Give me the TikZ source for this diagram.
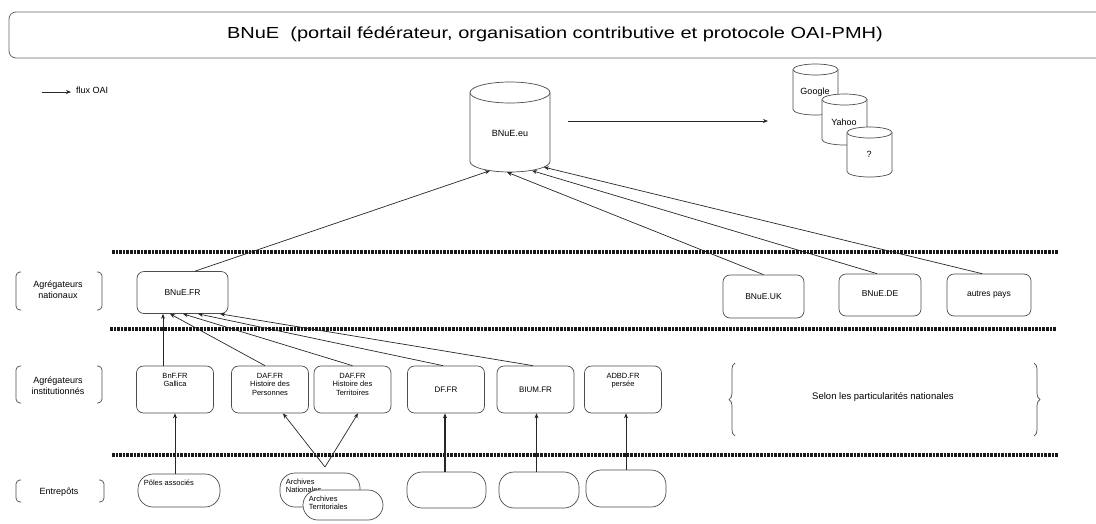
\documentclass[tikz,border=0pt]{standalone}
\usepackage{fontspec}
\setmainfont{Liberation Sans}
\usetikzlibrary{arrows.meta,calc,decorations.pathreplacing}
\newcommand{\cylshape}[5]{% left, top, width, height, ry
  \filldraw[cylline] (#1,#2+#5) -- (#1,#2+#4-#5)
    arc[start angle=180,end angle=0,x radius=#3/2,y radius=#5]
    -- (#1+#3,#2+#5)
    arc[start angle=0,end angle=-180,x radius=#3/2,y radius=#5] -- cycle;
  \draw[cylline] (#1,#2+#5) arc[start angle=180,end angle=0,x radius=#3/2,y radius=#5];}
\begin{document}
\begin{tikzpicture}[x=1pt,y=-1pt,
  ln/.style={draw=black!85,line width=0.7pt},
  arr/.style={ln,-{Stealth[length=5pt,width=4pt]}},
  dotline/.style={line width=3.5pt,dash pattern=on 2.6pt off 1pt,black!90},
  cylline/.style={draw=black!70,fill=white,line width=0.7pt},
  cyltext/.style={inner sep=0pt,font=\fontsize{9}{10}\selectfont},
  natbox/.style={draw=black!70,line width=0.7pt,rounded corners=7pt,minimum height=42pt,font=\fontsize{8.5}{10}\selectfont},
  instbox/.style={draw=black!70,line width=0.7pt,rounded corners=7pt,minimum height=47pt,minimum width=77pt,font=\fontsize{8}{9}\selectfont,align=center},
  toplab/.style={anchor=north,yshift=-6pt,font=\fontsize{7.5}{8.5}\selectfont,align=center,inner sep=1pt},
  stad/.style={draw=black!70,fill=white,line width=0.7pt,rounded corners=15pt,minimum width=80pt,minimum height=34pt},
  stadlab/.style={anchor=north west,xshift=6pt,yshift=-6pt,font=\fontsize{7.5}{8.5}\selectfont,align=left,inner sep=0pt},
  side/.style={font=\fontsize{9}{11}\selectfont,align=center,inner sep=0pt},
  brk/.style={draw=black!70,line width=0.7pt,rounded corners=4pt}]
\useasboundingbox (0,0) rectangle (1096,523);

% title
\draw[draw=black!60,line width=0.8pt,rounded corners=7pt] (9,12) rectangle (1110,58);
\node[font=\fontsize{16}{18}\selectfont,inner sep=0pt,xscale=1.25] (title) at (555,34) {BNuE\ \ (portail fédérateur, organisation contributive et protocole OAI-PMH)};

% legend
\coordinate (lg) at (42,92);
\node[font=\fontsize{9}{10}\selectfont,anchor=west,inner sep=0pt] (lgt) at (76,90) {flux OAI};
\draw[arr] (lg) -- ($(lgt.west)+(-5,2)$);

% cylinders
\cylshape{470}{82}{80}{90}{10.5}
\node[cyltext,minimum width=80pt,minimum height=90pt] (eu) at (510,127) {};
\node[cyltext] (eut) at (510,133) {BNuE.eu};
\cylshape{793}{64}{45}{51}{5.5}
\cylshape{822}{94}{45}{51}{5.5}
\cylshape{847}{127}{45}{50}{5.5}
\node[cyltext] (google) at (815,92) {Google};
\node[cyltext] (yahoo) at (844,122) {Yahoo};
\node[cyltext] (other) at (869,154) {?};

\coordinate (euout) at (568,121);
\coordinate (seng) at (768,121);
\draw[arr,line width=0.9pt] (euout) -- (seng);

% dotted separators
\draw[dotline] (112,252) -- (1058,252);
\draw[dotline] (110,329) -- (1056,329);
\draw[dotline] (112,455) -- (1058,455);

% side labels
\node[side] (l1) at (58,290) {Agrégateurs\\nationaux};
\draw[brk] (21,272) -- (16,272) -- (16,310) -- (21,310);
\draw[brk] (97,272) -- (102,272) -- (102,310) -- (97,310);
\node[side] (l2) at (58,386) {Agrégateurs\\institutionnés};
\draw[brk] (21,366) -- (16,366) -- (16,403) -- (21,403);
\draw[brk] (97,366) -- (102,366) -- (102,403) -- (97,403);
\node[side] (l3) at (59,492) {Entrepôts};
\draw[brk] (21,480) -- (16,480) -- (16,502) -- (21,502);
\draw[brk] (99,480) -- (104,480) -- (104,502) -- (99,502);

% national aggregators
\node[natbox,minimum width=91pt] (fr) at (182.5,292.5) {BNuE.FR};
\node[natbox,minimum width=81pt,minimum height=43pt] (uk) at (763.5,296.5) {BNuE.UK};
\node[natbox,minimum width=82pt] (de) at (880,295) {\raisebox{3pt}{BNuE.DE}};
\node[natbox,minimum width=84pt] (autres) at (989,295) {autres pays};

% institutional aggregators
\node[instbox,label={[toplab]north:BnF.FR\\Gallica}] (bnf) at (175,389.5) {};
\node[instbox,label={[toplab]north:DAF.FR\\Histoire des\\Personnes}] (dafp) at (270,389.5) {};
\node[instbox,label={[toplab]north:DAF.FR\\Histoire des\\Territoires}] (daft) at (352.5,389.5) {};
\node[instbox] (df) at (446,389.5) {DF.FR};
\node[instbox] (bium) at (535.5,389.5) {BIUM.FR};
\node[instbox,label={[toplab]north:ADBD.FR\\persée}] (adbd) at (623,389.5) {};

% selon
\node[font=\fontsize{9.5}{11}\selectfont,inner sep=0pt] (selon) at (883,397) {Selon les particularités nationales};
\draw[draw=black!70,line width=0.7pt,decorate,decoration={brace,amplitude=6pt}] (735,436) -- (735,363);
\draw[draw=black!70,line width=0.7pt,decorate,decoration={brace,amplitude=6pt}] (1034,363) -- (1034,436);

% repositories
\node[stad,minimum width=82pt,minimum height=33pt,label={[stadlab]north west:Pôles associés}] (pol) at (179,490.5) {};
\node[stad,label={[stadlab]north west:Archives\\Nationales}] (an) at (320,490) {};
\node[stad,minimum height=30pt,label={[stadlab]north west:Archives\\Territoriales}] (at) at (343,505) {};
\node[stad,minimum width=79pt,minimum height=36pt] (e1) at (446.5,490) {};
\node[stad,minimum height=36pt] (e2) at (539,490) {};
\node[stad,minimum height=37pt] (e3) at (626,488.5) {};

% connectors into BNuE.eu
\draw[arr] ($(fr.north)+(12.5,0)$) -- ($(eu.south)+(-20,-1.5)$);
\draw[arr] (uk.north) -- ($(eu.south)+(-3,0)$);
\draw[arr] ($(de.north)+(-3,0)$) -- ($(eu.south)+(22,-1.5)$);
\draw[arr] ($(autres.north)+(-7,0)$) -- ($(eu.south)+(34,-5)$);

% connectors into BNuE.FR
\draw[arr,line width=1pt] ($(bnf.north)+(-12,0)$) -- ($(fr.south)+(-19.5,0)$);
\draw[arr] ($(dafp.north)+(-5,0)$) -- ($(fr.south)+(-12.5,0)$);
\draw[arr] (daft.north) -- ($(fr.south)+(0.5,0)$);
\draw[arr] ($(df.north)+(-3,0)$) -- ($(fr.south)+(15.5,0)$);
\draw[arr] ($(bium.north)+(-2.5,0)$) -- ($(fr.south)+(37.5,0)$);

% connectors from repositories
\draw[arr] (bnf.south |- pol.north) -- (bnf.south);
\coordinate (archsrc) at (325,467);
\draw[arr] (archsrc) -- ($(dafp.south)+(13,0)$);
\draw[arr] (archsrc) -- ($(daft.south)+(5.5,0)$);
\draw[arr,line width=1.3pt] ($(df.south |- e1.north)+(-1,0)$) -- ($(df.south)+(-1,0)$);
\draw[arr] ($(bium.south |- e2.north)+(1,0)$) -- ($(bium.south)+(1,0)$);
\draw[arr] ($(adbd.south |- e3.north)+(3,0)$) -- ($(adbd.south)+(3,0)$);
\end{tikzpicture}
\end{document}
